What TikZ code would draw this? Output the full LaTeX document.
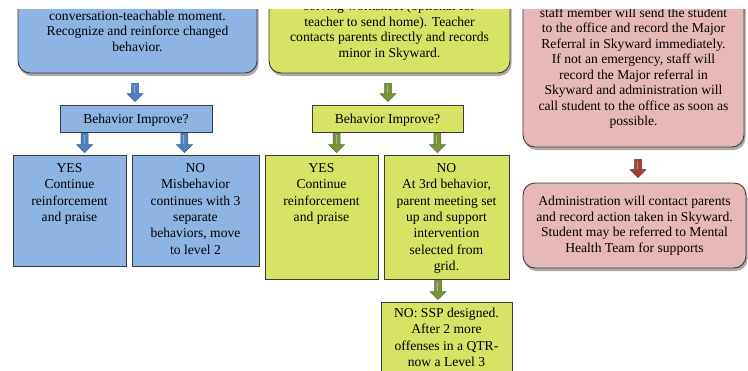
\documentclass[tikz,border=0pt]{standalone}
\usepackage{fontspec}
\setmainfont{LiberationSerif}[Extension=.ttf, UprightFont=*-Regular, BoldFont=*-Bold, ItalicFont=*-Italic, BoldItalicFont=*-BoldItalic]
\usetikzlibrary{calc,shadows}
\definecolor{bluefill}{HTML}{8EB4E3}
\definecolor{bluearr}{HTML}{4F81BD}
\definecolor{bluearrline}{HTML}{385D8A}
\definecolor{yelfill}{HTML}{D7E365}
\definecolor{grnarr}{HTML}{77933C}
\definecolor{grnarrline}{HTML}{5A722B}
\definecolor{pinkfill}{HTML}{E6B9B8}
\definecolor{redarr}{HTML}{A0403E}
\definecolor{redarrline}{HTML}{7A2B2A}
\definecolor{edge}{HTML}{3A3A3A}
\tikzset{
  roundbox/.style={draw=edge, line width=0.9pt, rounded corners=12pt, align=center, inner sep=0pt,
    font=\fontsize{13.6}{15.5}\selectfont,
    drop shadow={shadow xshift=1.5pt, shadow yshift=-3pt, fill=black!55, opacity=.6}},
  rectbox/.style={draw=edge, line width=0.8pt, inner sep=0pt},
  recttext/.style={align=center, inner sep=0pt, anchor=north, font=\fontsize{13.6}{16.4}\selectfont},
  qtext/.style={font=\fontsize{13.6}{16}\selectfont},
  bluearrow/.style={fill=bluearr, draw=bluearrline, line width=0.5pt},
  greenarrow/.style={fill=grnarr, draw=grnarrline, line width=0.5pt},
  redarrow/.style={fill=redarr, draw=redarrline, line width=0.5pt},
}
% block arrow from #2 (top of shaft) to #3 (tip)
\newcommand\blkarrow[3]{%
  \path[#1] let \p1=#2, \p2=#3 in
    (\x1-3.5pt,\y1) -- (\x1+3.5pt,\y1) -- (\x1+3.5pt,\y2+8pt) -- (\x1+8pt,\y2+8pt)
    -- (\x1,\y2) -- (\x1-8pt,\y2+8pt) -- (\x1-3.5pt,\y2+8pt) -- cycle;
  \path[draw=white, opacity=.35, line width=1pt] let \p1=#2, \p2=#3 in
    (\x1-0.5pt,\y1-1.5pt) -- (\x1-0.5pt,\y2+9pt);}
\begin{document}
\begin{tikzpicture}[x=1pt,y=-1pt]
\useasboundingbox[fill=white] (0,0) rectangle (748,370);
\begin{scope}
\clip (0,9) rectangle (748,370);
% ---------- blue column ----------
\node[roundbox, fill=bluefill, minimum width=239pt, minimum height=84pt] (b1) at (137.5,31)
  {conversation-teachable moment.\\Recognize and reinforce changed\\behavior.};
\node[rectbox, fill=bluefill, minimum width=152pt, minimum height=27pt] (bi) at (136,118.5) {};
\node[qtext] (bit) at ($(bi.center)+(0,1.5)$) {Behavior Improve?};
\node[rectbox, fill=bluefill, minimum width=113pt, minimum height=111pt] (by) at (69.5,210.5) {};
\node[recttext] (byt) at ($(by.north)+(0,8.5)$) {YES\\Continue\\reinforcement\\and praise};
\node[rectbox, fill=bluefill, minimum width=127pt, minimum height=111pt] (bn) at (195.5,210.5) {};
\node[recttext] (bnt) at ($(bn.north)+(0,8.5)$) {NO\\Misbehavior\\continues with 3\\separate\\behaviors, move\\to level 2};
\blkarrow{bluearrow}{($(b1.south)+(-2.5,10)$)}{($(bi.north)+(-1,-3)$)}
\blkarrow{bluearrow}{($(bi.south west)+(25,1)$)}{($(by.north)+(15.5,-2)$)}
\blkarrow{bluearrow}{($(bi.south east)+(-28,1)$)}{($(bn.north)+(-11.5,-2)$)}
% ---------- yellow column ----------
\node[roundbox, fill=yelfill, minimum width=241pt, minimum height=84.5pt] (y1) at (389.5,30.75)
  {solving worksheet (optional for\\teacher to send home). Teacher\\contacts parents directly and records\\minor in Skyward.};
\node[rectbox, fill=yelfill, minimum width=151pt, minimum height=27pt] (yi) at (387.5,118.5) {};
\node[qtext] (yit) at ($(yi.center)+(0,1.5)$) {Behavior Improve?};
\node[rectbox, fill=yelfill, minimum width=113pt, minimum height=124pt] (yy) at (321.5,217) {};
\node[recttext] (yyt) at ($(yy.north)+(0,8.5)$) {YES\\Continue\\reinforcement\\and praise};
\node[rectbox, fill=yelfill, minimum width=125pt, minimum height=124pt] (yn) at (446.5,217) {};
\node[recttext] (ynt) at ($(yn.north)+(0,8.5)$) {NO\\At 3rd behavior,\\parent meeting set\\up and support\\intervention\\selected from\\grid.};
\node[rectbox, fill=yelfill, minimum width=131pt, minimum height=80pt] (ys) at (446.5,342) {};
\node[recttext] (yst) at ($(ys.north)+(0,6)$) {NO: SSP designed.\\After 2 more\\offenses in a QTR-\\now a Level 3};
\blkarrow{greenarrow}{($(y1.south)+(-1.5,10)$)}{($(yi.north)+(0.5,-3)$)}
\blkarrow{greenarrow}{($(yi.south west)+(25,1)$)}{($(yy.north)+(15.5,-2)$)}
\blkarrow{greenarrow}{($(yi.south east)+(-26,1)$)}{($(yn.north)+(-9.5,-2)$)}
\blkarrow{greenarrow}{($(yn.south)+(-8.5,1)$)}{($(ys.north)+(-8.5,-2)$)}
% ---------- pink column ----------
\node[roundbox, fill=pinkfill, minimum width=221pt, minimum height=158pt] (p1) at (633.5,68)
  {staff member will send the student\\to the office and record the Major\\Referral in Skyward immediately.\\If not an emergency, staff will\\record the Major referral in\\Skyward and administration will\\call student to the office as soon as\\possible.};
\node[roundbox, fill=pinkfill, minimum width=223pt, minimum height=85pt] (p2) at (634.5,225.5)
  {Administration will contact parents\\and record action taken in Skyward.\\Student may be referred to Mental\\Health Team for supports};
\blkarrow{redarrow}{($(p1.south)+(4.5,12)$)}{($(p2.north)+(3.5,-5)$)}
\end{scope}
\end{tikzpicture}
\end{document}
